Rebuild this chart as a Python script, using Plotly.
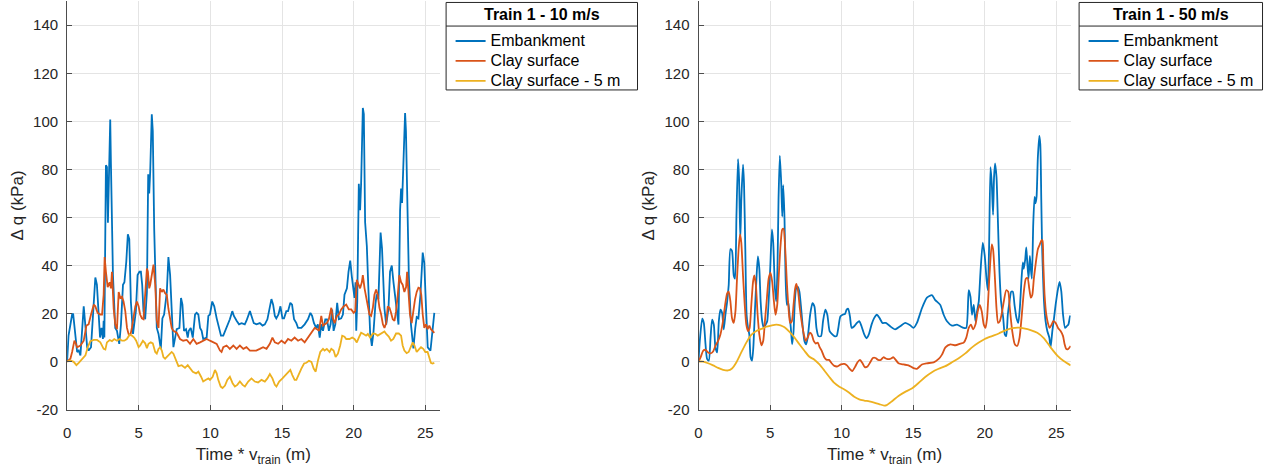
import plotly.graph_objects as go

# ---- Train 1, 10 m/s : (position m, delta q kPa) ----
embankment_10 = [
    (0, 0), (0.1, 10.8), (0.35, 19.6), (0.42, 20), (0.7, 4), (0.81, 4.6), (0.93, 2.6), (1.16, 23),
    (1.4, 6), (1.5, 4.6), (1.67, 6), (1.97, 35), (2.08, 32), (2.3, 10), (2.4, 14), (2.5, 9.4),
    (2.55, 17), (2.6, 10), (2.71, 81.7), (2.78, 81), (2.85, 57.8), (2.9, 68), (3.01, 100.8),
    (3.06, 82), (3.2, 36), (3.36, 14), (3.48, 12.8), (3.64, 7.4), (3.76, 15.5), (3.9, 32),
    (4.0, 33), (4.13, 41.5), (4.24, 53), (4.34, 51), (4.45, 25), (4.6, 11.5), (4.7, 16), (4.8, 21),
    (4.92, 36), (5.05, 37.4), (5.15, 37.4), (5.24, 32), (5.33, 21), (5.45, 17.6), (5.57, 29),
    (5.66, 78), (5.73, 70), (5.8, 79), (5.91, 102.9), (5.98, 96), (6.08, 55), (6.19, 21),
    (6.26, 14), (6.38, 11.5), (6.54, 5.3), (6.65, 18), (6.77, 19.6), (6.96, 29), (7.07, 43.5),
    (7.19, 36), (7.3, 18), (7.42, 6), (7.54, 10), (7.65, 13.5), (7.84, 14), (7.95, 26.5),
    (8.05, 23.7), (8.16, 12.8), (8.3, 13.5), (8.42, 10), (8.49, 12.8), (8.63, 14), (8.77, 10),
    (8.93, 19.6), (9.04, 20.3), (9.16, 19.6), (9.28, 14), (9.39, 12.8), (9.5, 9.4), (9.74, 10),
    (9.86, 19), (9.97, 19.6), (10.13, 25), (10.27, 23), (10.44, 18), (10.62, 12.8), (10.74, 10.8),
    (10.9, 10.8), (11.13, 14), (11.36, 17.6), (11.53, 21), (11.64, 19), (11.83, 17), (12.0, 15.5),
    (12.18, 16), (12.4, 15.5), (12.52, 17), (12.76, 21), (12.87, 19), (13.03, 16), (13.22, 15.5),
    (13.45, 16), (13.64, 15), (13.8, 15.5), (13.98, 17.6), (14.15, 23.7), (14.26, 26),
    (14.38, 23.7), (14.5, 19), (14.6, 18), (14.75, 19.6), (14.89, 23), (15.03, 18), (15.14, 18),
    (15.3, 21), (15.42, 21), (15.58, 24.5), (15.7, 23.7), (15.84, 17.6), (16.0, 16), (16.12, 14),
    (16.35, 14), (16.58, 15.5), (16.81, 17.6), (16.98, 20.3), (17.1, 19), (17.23, 16), (17.39, 14),
    (17.5, 15.5), (17.63, 10), (17.74, 15.5), (17.86, 12.8), (18.02, 17.6), (18.14, 17.6),
    (18.27, 12.8), (18.39, 15.5), (18.5, 21.7), (18.6, 12.8), (18.72, 15.5), (18.85, 24.5),
    (18.97, 17.6), (19.13, 18), (19.25, 19.6), (19.36, 27.8), (19.53, 30.5), (19.64, 37.4),
    (19.76, 42), (19.87, 35.5), (20.0, 27.8), (20.06, 26.5), (20.13, 33), (20.18, 12.8),
    (20.25, 25), (20.36, 74), (20.45, 63), (20.52, 74), (20.64, 105.6), (20.71, 103), (20.8, 58),
    (20.92, 48), (21.03, 30), (21.15, 12), (21.27, 6.5), (21.38, 12), (21.52, 24), (21.61, 28),
    (21.73, 26), (21.88, 53.7), (21.98, 47), (22.08, 30), (22.15, 22), (22.27, 15.4), (22.43, 22),
    (22.54, 37.4), (22.66, 40), (22.78, 33), (22.97, 22), (23.13, 15.4), (23.24, 63), (23.31, 72),
    (23.38, 66), (23.48, 85), (23.59, 103.5), (23.65, 96), (23.75, 66), (23.85, 36), (24.0, 15.4),
    (24.17, 5.5), (24.3, 14), (24.4, 18.5), (24.52, 18), (24.66, 27.7), (24.82, 45.4),
    (24.93, 41), (25.06, 20.9), (25.17, 5.9), (25.36, 4.5), (25.52, 14), (25.63, 20.3),
]

clay_surface_10 = [
    (0, 0), (0.23, 1.2), (0.35, 4), (0.51, 8.7), (0.58, 8), (0.7, 6), (0.93, 6.7), (1.16, 8.7),
    (1.35, 15), (1.5, 15.5), (1.67, 19.6), (1.86, 23.7), (1.97, 23), (2.13, 20.3), (2.32, 19.6),
    (2.44, 19.6), (2.55, 27.8), (2.62, 43.5), (2.71, 37.4), (2.83, 31), (2.97, 33), (3.06, 30.5),
    (3.13, 37.4), (3.25, 22), (3.36, 15.5), (3.48, 13.5), (3.6, 29), (3.71, 26.5), (3.83, 27),
    (3.94, 25), (4.06, 21), (4.18, 14), (4.29, 11.5), (4.41, 10.8), (4.52, 14), (4.64, 19.6),
    (4.76, 23), (4.87, 25), (4.99, 23), (5.1, 19.6), (5.22, 18), (5.33, 17.6), (5.45, 27.8),
    (5.57, 38.7), (5.64, 37.4), (5.73, 30.5), (5.8, 32), (5.91, 36), (6.03, 40.4), (6.15, 32),
    (6.26, 17), (6.38, 14), (6.49, 30.5), (6.61, 29), (6.72, 30), (6.84, 28.5), (6.96, 27.8),
    (7.07, 22), (7.19, 17.6), (7.3, 14), (7.42, 12.8), (7.65, 12), (7.88, 9.4), (8.1, 8.7),
    (8.35, 9), (8.58, 7.4), (8.81, 9.4), (9.04, 7.4), (9.28, 8), (9.5, 8.7), (9.74, 9.4),
    (9.97, 8.7), (10.2, 8), (10.44, 7.4), (10.67, 4.6), (10.78, 4), (10.9, 6), (11.13, 6.7),
    (11.36, 5.3), (11.6, 6.7), (11.83, 5.3), (12.06, 6.7), (12.3, 5.3), (12.52, 6), (12.76, 4.6),
    (13.2, 4.6), (13.45, 5.3), (13.68, 6), (13.92, 5.3), (14.15, 7.4), (14.33, 10), (14.5, 8),
    (14.73, 7.4), (14.96, 8.7), (15.2, 7.6), (15.42, 9.4), (15.65, 8.7), (15.88, 10), (16.12, 8.7),
    (16.35, 9.4), (16.58, 8), (16.81, 10), (17.05, 12), (17.28, 14), (17.44, 13.5), (17.58, 12.8),
    (17.74, 19), (17.86, 15), (17.97, 15.5), (18.13, 16), (18.27, 17.6), (18.44, 22.4),
    (18.55, 18), (18.67, 16), (18.83, 19), (18.97, 19.6), (19.13, 21.7), (19.3, 23), (19.48, 23.7),
    (19.66, 21.7), (19.83, 21.7), (20.0, 20.3), (20.11, 21), (20.22, 34), (20.34, 32),
    (20.45, 30.5), (20.57, 33), (20.64, 36), (20.76, 30.5), (20.87, 26.5), (20.99, 22.4),
    (21.1, 19.6), (21.22, 19), (21.34, 22.4), (21.45, 27.8), (21.57, 30), (21.68, 27.8),
    (21.8, 22.4), (21.92, 19.6), (22.04, 15.5), (22.15, 14), (22.27, 16), (22.38, 23), (22.5, 22.4),
    (22.61, 20.3), (22.73, 17.6), (22.85, 17), (22.96, 21), (23.08, 27.8), (23.19, 36), (23.31, 33),
    (23.42, 32), (23.54, 29), (23.66, 31), (23.73, 37.4), (23.82, 30.5), (23.93, 19.6), (24.05, 16),
    (24.17, 22.4), (24.28, 25.8), (24.4, 29), (24.52, 30.8), (24.63, 30.5), (24.72, 27.8),
    (24.82, 19.6), (24.93, 14), (25.05, 15.5), (25.16, 13.5), (25.28, 15), (25.39, 13.5),
    (25.5, 12.8), (25.63, 12),
]

clay_5m_10 = [
    (0, 0), (0.23, 0.5), (0.46, -0.1), (0.65, -1.5), (0.81, -0.5), (1.04, 1.2), (1.28, 2.6),
    (1.44, 6), (1.62, 8.5), (1.86, 9), (2.09, 9), (2.32, 8), (2.55, 5.3), (2.67, 5), (2.78, 8),
    (2.97, 9), (3.13, 8.5), (3.29, 9.4), (3.48, 8.7), (3.66, 9.4), (3.83, 8.7), (3.99, 8.7),
    (4.17, 9.4), (4.36, 11.2), (4.52, 10.8), (4.68, 10), (4.82, 8.7), (4.99, 6), (5.1, 6.7),
    (5.29, 8.7), (5.45, 7.6), (5.57, 5.6), (5.68, 7.4), (5.84, 8), (5.98, 7.6), (6.15, 4),
    (6.26, 3.3), (6.38, 5.3), (6.49, 6), (6.61, 4.6), (6.72, 1.9), (6.84, 1.2), (7.07, 2.6),
    (7.3, 4), (7.42, 3.3), (7.54, 1.2), (7.65, -0.1), (7.77, -1.9), (8.0, -1.5), (8.23, -2.6),
    (8.42, -1.5), (8.58, -2.9), (8.77, -4.2), (9.0, -4.9), (9.16, -4.2), (9.35, -6.3), (9.5, -8.3),
    (9.69, -7.6), (9.86, -7), (9.97, -7.6), (10.16, -6.3), (10.32, -3.5), (10.44, -4.9),
    (10.55, -7.6), (10.72, -10.4), (10.85, -11), (11.02, -10), (11.18, -7.6), (11.36, -6.3),
    (11.55, -9), (11.71, -10.4), (11.88, -9.7), (12.06, -8.3), (12.25, -9.7), (12.41, -10.4),
    (12.64, -8.3), (12.87, -7), (13.1, -8.3), (13.33, -8.7), (13.57, -7.6), (13.8, -8.3),
    (13.98, -7), (14.15, -5.2), (14.33, -7), (14.5, -9.7), (14.61, -10.4), (14.8, -8.3),
    (15.03, -7), (15.26, -5.6), (15.42, -4.2), (15.58, -3.5), (15.72, -5.6), (15.88, -7.6),
    (16.0, -7.6), (16.19, -4.9), (16.35, -2.9), (16.54, -0.8), (16.7, -0.5), (16.88, 0.3),
    (17.05, -0.1), (17.21, -2.9), (17.35, -4.2), (17.51, 0.5), (17.67, 4), (17.86, 5.3),
    (17.97, 4.6), (18.13, 5.3), (18.32, 4), (18.44, 5.3), (18.6, 4.6), (18.74, 1.9), (18.9, 3.3),
    (19.06, 6.7), (19.2, 10.8), (19.36, 10.4), (19.48, 9.4), (19.71, 9.4), (19.9, 10), (20.06, 9.4),
    (20.22, 8), (20.36, 10), (20.52, 12), (20.69, 11.5), (20.87, 10.8), (20.99, 11.5), (21.15, 10),
    (21.34, 11.7), (21.52, 11.5), (21.68, 10.8), (21.85, 11.5), (22.04, 12), (22.15, 12.5),
    (22.27, 11.5), (22.45, 10.4), (22.61, 8.7), (22.77, 9.4), (22.96, 11.7), (23.15, 11.7),
    (23.31, 10.8), (23.42, 6.7), (23.54, 4.6), (23.7, 3.5), (23.84, 4), (24.0, 6), (24.12, 8),
    (24.24, 6.7), (24.4, 4), (24.54, 5), (24.7, 6), (24.86, 5.3), (25.0, 4), (25.16, 4),
    (25.28, 1.9), (25.39, -0.5), (25.5, -0.8), (25.63, -0.5),
]

# ---- Train 1, 50 m/s ----
embankment_50 = [
    (0, 0), (0.09, 8.6), (0.26, 17.9), (0.37, 16.1), (0.49, 7.2), (0.6, 1.1), (0.72, 0.4),
    (0.84, 10), (0.95, 17.5), (1.07, 15.4), (1.18, 5.9), (1.3, 3.8), (1.42, 16.8), (1.53, 21.6),
    (1.65, 20.2), (1.76, 13.4), (1.88, 19.5), (2.0, 25), (2.11, 31.8), (2.23, 46.8), (2.34, 46.1),
    (2.46, 35.9), (2.55, 34.5), (2.65, 60.4), (2.76, 84.3), (2.83, 76.8), (2.92, 50.9),
    (2.99, 67.3), (3.11, 82), (3.18, 74.1), (3.27, 46.8), (3.36, 19.5), (3.46, 14), (3.55, 11.3),
    (3.64, 1.8), (3.74, 0.4), (3.83, 5.9), (3.94, 20.9), (4.06, 35.9), (4.15, 43.8), (4.25, 38.6),
    (4.34, 25), (4.45, 16.8), (4.57, 14), (4.69, 15.4), (4.8, 16.8), (4.9, 25), (5.01, 38.6),
    (5.13, 55), (5.22, 49.5), (5.34, 30.4), (5.43, 25), (5.52, 40), (5.59, 67.3), (5.68, 85.7),
    (5.78, 74.1), (5.85, 60.4), (5.92, 73.4), (6.01, 59.1), (6.08, 35.9), (6.17, 23.6), (6.26, 25),
    (6.36, 19.5), (6.45, 14), (6.54, 7.2), (6.64, 12.7), (6.73, 25), (6.82, 30.4), (6.94, 31.1),
    (7.05, 29.1), (7.17, 22.2), (7.29, 14), (7.4, 8.6), (7.52, 7.2), (7.63, 10), (7.8, 19.5),
    (7.96, 24.3), (8.1, 22.9), (8.24, 14), (8.38, 10.6), (8.56, 10.6), (8.7, 16.8), (8.86, 21.6),
    (9.0, 19.5), (9.16, 12.7), (9.35, 11.3), (9.49, 10.6), (9.65, 10.6), (9.77, 14), (9.91, 18.8),
    (10.07, 19.5), (10.23, 19.8), (10.35, 21.6), (10.46, 22), (10.58, 18.8), (10.7, 14),
    (10.88, 14.7), (11.07, 16.1), (11.23, 16.8), (11.39, 14.7), (11.58, 11.3), (11.74, 9.7),
    (11.9, 11.3), (12.09, 15.4), (12.27, 18.1), (12.46, 19.5), (12.65, 18.1), (12.85, 16.1),
    (13.09, 16.1), (13.39, 14.7), (13.74, 13.4), (14.09, 14.7), (14.44, 16.1), (14.79, 15.1),
    (15.02, 14), (15.26, 16.1), (15.61, 22.2), (15.96, 26.6), (16.31, 27.7), (16.54, 25.6),
    (16.89, 23.6), (17.13, 19.5), (17.36, 16.8), (17.71, 15), (18.06, 15.4), (18.29, 14.7),
    (18.53, 14), (18.71, 14), (18.88, 29.7), (19.0, 27), (19.11, 19.5), (19.23, 23.6),
    (19.35, 16.8), (19.46, 20.9), (19.58, 25), (19.7, 37.2), (19.86, 49.5), (20.0, 44),
    (20.12, 34.5), (20.21, 29.7), (20.3, 46.8), (20.4, 80.9), (20.49, 74.1), (20.58, 61.1),
    (20.65, 76.8), (20.72, 82.5), (20.82, 76.8), (20.91, 60.4), (21.03, 37.2), (21.14, 25),
    (21.29, 18.1), (21.4, 11.3), (21.5, 10.6), (21.61, 19.5), (21.73, 25), (21.85, 29.1),
    (21.96, 29.1), (22.08, 23.6), (22.22, 18.1), (22.34, 16.1), (22.45, 22.2), (22.57, 34.5),
    (22.66, 41.3), (22.73, 38.6), (22.83, 42.7), (22.9, 47.5), (22.97, 41.3), (23.06, 34.5),
    (23.15, 44), (23.22, 38.6), (23.29, 34.5), (23.39, 57.7), (23.48, 68.6), (23.55, 65.9),
    (23.62, 68.6), (23.71, 85), (23.81, 93.9), (23.88, 90.5), (23.95, 67.3), (24.0, 49.5),
    (24.04, 41.3), (24.14, 25), (24.25, 16.8), (24.37, 12.7), (24.51, 10), (24.6, 5.9),
    (24.72, 12.7), (24.84, 18.1), (24.95, 23.6), (25.12, 30.4), (25.23, 33.2), (25.35, 29.1),
    (25.47, 19.5), (25.61, 14), (25.72, 14.7), (25.84, 15.4), (25.96, 18.8), (26.0, 19.1),
]

clay_surface_50 = [
    (0, 0), (0.16, 2), (0.32, 4.5), (0.49, 4.9), (0.67, 3.8), (0.84, 3.4), (1.02, 4.2),
    (1.18, 6.5), (1.37, 8.6), (1.53, 11.3), (1.69, 16.1), (1.86, 23.6), (2.0, 28.4), (2.11, 29.1),
    (2.23, 25), (2.34, 18.1), (2.46, 16.1), (2.58, 20.9), (2.69, 34.5), (2.81, 47.5), (2.9, 52.9),
    (2.99, 49.5), (3.11, 35.9), (3.23, 23.6), (3.34, 15.4), (3.46, 12.7), (3.57, 14), (3.69, 23.6),
    (3.81, 33.2), (3.9, 35.9), (4.01, 31.8), (4.13, 19.5), (4.25, 11.3), (4.39, 6.8), (4.52, 8.6),
    (4.64, 16.8), (4.76, 25), (4.9, 34.5), (5.03, 37), (5.15, 33.2), (5.27, 25), (5.38, 19.5),
    (5.5, 23.6), (5.61, 35.9), (5.73, 48.2), (5.85, 55), (5.94, 55.3), (6.06, 46.8), (6.17, 33.2),
    (6.29, 22.2), (6.4, 16.1), (6.52, 16.8), (6.64, 23.6), (6.75, 30.4), (6.84, 32.3),
    (6.96, 29.1), (7.08, 22.2), (7.22, 16.1), (7.36, 11.3), (7.49, 8.6), (7.63, 10), (7.77, 12),
    (7.91, 11.3), (8.05, 8.6), (8.19, 7.5), (8.33, 7.9), (8.47, 5.9), (8.61, 4.5), (8.79, 1.8),
    (8.93, 0.8), (9.12, 0.7), (9.3, -0.7), (9.49, -1.8), (9.72, -2), (9.95, -1.2), (10.19, -1),
    (10.37, -1.6), (10.56, -3), (10.74, -4), (10.93, -2.3), (11.11, -0.3), (11.28, 0.7),
    (11.46, -0.7), (11.62, -2.3), (11.81, -2), (12.0, -0.3), (12.18, 1.5), (12.37, 1.5),
    (12.55, 0.7), (12.74, 0.7), (12.92, 1.8), (13.16, 1.1), (13.39, 1.1), (13.62, 1.8),
    (13.97, -0.7), (14.32, -1.2), (14.67, -1.6), (15.02, -2.7), (15.26, -3), (15.61, -1.2),
    (15.96, -0.7), (16.43, -0.3), (16.78, 1.1), (17.01, 2.9), (17.25, 5.9), (17.6, 7.2),
    (17.95, 6.8), (18.29, 7.5), (18.53, 7.9), (18.71, 10), (18.88, 14), (19.04, 15.4),
    (19.18, 13.4), (19.35, 15.4), (19.51, 20.9), (19.65, 23.6), (19.79, 20.9), (19.93, 15.4),
    (20.05, 14), (20.16, 18.1), (20.33, 35.9), (20.49, 48.8), (20.58, 46.8), (20.7, 35.9),
    (20.82, 22.2), (20.93, 16.1), (21.05, 16.8), (21.17, 19.5), (21.33, 25), (21.5, 29.7),
    (21.64, 29.1), (21.75, 22.2), (21.92, 12.7), (22.1, 7.2), (22.27, 6.5), (22.43, 10),
    (22.57, 18.1), (22.73, 29.1), (22.87, 34.5), (22.99, 34.8), (23.11, 30.4), (23.22, 26.6),
    (23.32, 27.7), (23.43, 34.5), (23.57, 41.3), (23.71, 46.8), (23.85, 48.8), (23.97, 50.6),
    (24.04, 50.2), (24.09, 41.3), (24.18, 27.7), (24.3, 19.5), (24.41, 16.1), (24.53, 14),
    (24.67, 15.4), (24.79, 16.8), (24.95, 16.1), (25.12, 14), (25.3, 12.7), (25.47, 10.6),
    (25.58, 7.2), (25.7, 5.2), (25.82, 5.2), (25.93, 5.9), (26.0, 6.5),
]

clay_5m_50 = [
    (0, 0), (0.32, 0), (0.67, -0.7), (1.02, -1.6), (1.37, -2.6), (1.72, -3.4), (2.06, -3.7),
    (2.34, -2.9), (2.65, -0.3), (2.99, 3.8), (3.34, 7.9), (3.69, 11.1), (4.04, 12.7), (4.39, 13.6),
    (4.73, 14.5), (5.08, 15), (5.43, 15.4), (5.73, 15.1), (6.01, 14.3), (6.36, 12.4), (6.71, 10),
    (7.05, 7.2), (7.4, 4.5), (7.75, 2), (8.1, 0.8), (8.45, -1.2), (8.79, -3.7), (9.14, -6.4),
    (9.49, -8.9), (9.84, -10.5), (10.19, -11.6), (10.53, -13), (10.88, -14.6), (11.23, -15.7),
    (11.58, -16.2), (11.93, -16.6), (12.27, -17.1), (12.62, -17.7), (12.97, -18.3), (13.15, -18.1),
    (13.5, -16.6), (13.97, -14.3), (14.44, -12.6), (14.9, -11.2), (15.37, -8.9), (15.84, -6.4),
    (16.31, -4.4), (16.78, -3), (17.25, -1.9), (17.71, -0.3), (18.18, 1.4), (18.64, 3.4),
    (19.11, 5.9), (19.58, 7.9), (20.0, 9.4), (20.51, 10.6), (20.98, 11.7), (21.45, 13),
    (21.92, 13.9), (22.38, 14.1), (22.73, 13.8), (23.2, 13.1), (23.67, 12), (24.14, 9.7),
    (24.6, 5.9), (25.07, 2.5), (25.54, 0.1), (26.0, -1.6),
]

series_names = ["Embankment", "Clay surface", "Clay surface - 5 m"]
series_colors = ["#0072BD", "#D95319", "#EDB120"]
panel_titles = ["Train 1 - 10 m/s", "Train 1 - 50 m/s"]
x_ticks = [0, 5, 10, 15, 20, 25]
y_ticks = [-20, 0, 20, 40, 60, 80, 100, 120, 140]
y_tick_text = ["-20", "0", "20", "40", "60", "80", "100", "120", "140"]

panels = [
    [embankment_10, clay_surface_10, clay_5m_10],
    [embankment_50, clay_surface_50, clay_5m_50],
]

FONT = "Liberation Sans, Arial, Helvetica, sans-serif"
INK = "#262626"
W, H = 1271, 472

fig = go.Figure()
for p, group in enumerate(panels):
    for s, pts in enumerate(group):
        xs, ys = zip(*pts)
        fig.add_trace(go.Scatter(
            x=list(xs), y=list(ys), mode="lines",
            name='<span style="font-size:16px">' + series_names[s] + "</span>",
            line=dict(color=series_colors[s], width=1.8,
                      shape="spline" if p == 1 else "linear", smoothing=0.6),
            xaxis="x" if p == 0 else "x2", yaxis="y" if p == 0 else "y2",
            legend="legend" if p == 0 else "legend2",
        ))

axis_common = dict(
    showline=True, linecolor="#4d4d4d", linewidth=1, mirror=False,
    ticks="inside", ticklen=5, tickcolor="#4d4d4d", tickwidth=1,
    showgrid=True, gridcolor="#e4e4e4", gridwidth=1, zeroline=False,
    tickfont=dict(family=FONT, size=15, color=INK),
)
x_title = dict(text="Time * v<sub>train</sub> (m)", font=dict(family=FONT, size=17, color=INK),
               standoff=8)
y_title = dict(text="Δ q (kPa)", font=dict(family=FONT, size=17, color=INK), standoff=5)

y_dom = [1 - 416.7 / H, 1 - 1.25 / H]
x_dom1 = [63.3 / W, 437.0 / W]
x_dom2 = [696.7 / W, 1070.0 / W]

# legend frames (box, title, rule under the title) sit behind transparent legends
legend_boxes = [(443.5, 635.5), (1078.5, 1262.5)]
box_top, box_bottom, title_rule, title_mid = 2.5, 91.5, 26.5, 14.5

legend_common = dict(
    bgcolor="rgba(0,0,0,0)", borderwidth=0,
    font=dict(family=FONT, size=13, color="black"),
    xanchor="left", yanchor="top", y=1 - 26.5 / H,
    tracegroupgap=0, itemwidth=30,
)

fig.update_layout(
    width=W, height=H, autosize=False,
    margin=dict(l=0, r=0, t=0, b=0),
    paper_bgcolor="white", plot_bgcolor="white",
    showlegend=True,
    xaxis=dict(domain=x_dom1, range=[0, 26], tickvals=x_ticks, title=x_title, anchor="y",
               ticklabelstandoff=9, **axis_common),
    yaxis=dict(domain=y_dom, range=[-20, 150], tickvals=y_ticks, ticktext=y_tick_text,
               title=y_title, anchor="x", ticklabelstandoff=5, **axis_common),
    xaxis2=dict(domain=x_dom2, range=[0, 26], tickvals=x_ticks, title=x_title, anchor="y2",
                ticklabelstandoff=9, **axis_common),
    yaxis2=dict(domain=y_dom, range=[-20, 150], tickvals=y_ticks, ticktext=y_tick_text,
                title=y_title, anchor="x2", ticklabelstandoff=5, **axis_common),
    legend=dict(x=448 / W, **legend_common),
    legend2=dict(x=1083 / W, **legend_common),
)

for (x0, x1), title in zip(legend_boxes, panel_titles):
    fig.add_shape(type="rect", xref="paper", yref="paper", layer="above",
                  x0=x0 / W, x1=x1 / W, y0=1 - box_bottom / H, y1=1 - box_top / H,
                  fillcolor="white", line=dict(color=INK, width=1))
    fig.add_shape(type="line", xref="paper", yref="paper", layer="above",
                  x0=x0 / W, x1=x1 / W, y0=1 - title_rule / H, y1=1 - title_rule / H,
                  line=dict(color=INK, width=1))
    fig.add_annotation(text="<b>" + title + "</b>", xref="paper", yref="paper",
                       x=(x0 + x1) / 2 / W, y=1 - title_mid / H, xanchor="center",
                       yanchor="middle", showarrow=False,
                       font=dict(family=FONT, size=16, color="black"))

fig.write_html("out.html")
